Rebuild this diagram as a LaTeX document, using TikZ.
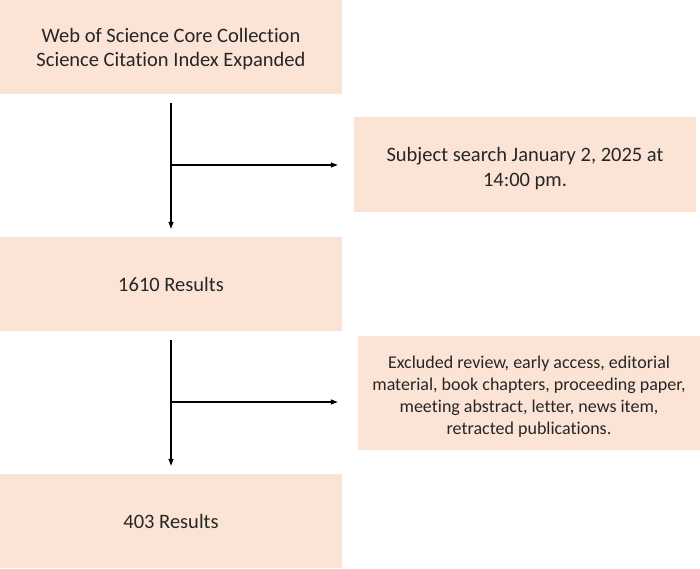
\documentclass[tikz,border=0pt]{standalone}
\usepackage{fontspec}
\setmainfont{Carlito}[Ligatures=NoCommon]
\usetikzlibrary{arrows.meta}
\definecolor{boxfill}{RGB}{251,228,214}
\begin{document}
\begin{tikzpicture}[x=1pt,y=-1pt,
  box/.style={fill=boxfill,draw=none,minimum width=342pt,inner sep=0pt,align=center,text=black!85},
  txt/.style={inner sep=0pt,align=center,text=black!85},
  big/.style={font=\fontsize{20.5}{24.5}\selectfont},
  small/.style={font=\fontsize{18}{22}\selectfont},
  arr/.style={line width=1.2pt,-{Triangle[length=7pt,width=5pt]}}]
\useasboundingbox (0,0) rectangle (700,569);
\node[box,minimum height=94pt] (wos) at (171,47) {};
\node[txt,big] (wostext) at ([yshift=-2pt]wos.center) {Web of Science Core Collection\\Science Citation Index Expanded};
\node[box,minimum height=95pt] (search) at (525,164.5) {};
\node[txt,big] (searchtext) at ([yshift=-4pt]search.center) {Subject search January 2, 2025 at\\14:00 pm.};
\node[box,big,minimum height=94pt] (r1610) at (171,284) {1610 Results};
\node[box,minimum height=114pt] (excl) at (529,393) {};
\node[txt,small] (excltext) at ([yshift=-4pt]excl.center) {Excluded review, early access, editorial\\material, book chapters, proceeding paper,\\meeting abstract, letter, news item,\\retracted publications.};
\node[box,big,minimum height=94pt] (r403) at (171,521) {403 Results};
\coordinate (j1) at (171,165);
\coordinate (j2) at (171,402);
\draw[arr,shorten <=9pt,shorten >=8pt] (wos.south) -- (r1610.north);
\draw[arr,shorten >=16pt] (j1) -- (j1 -| search.west);
\draw[arr,shorten <=9pt,shorten >=8pt] (r1610.south) -- (r403.north);
\draw[arr,shorten >=20pt] (j2) -- (j2 -| excl.west);
\end{tikzpicture}
\end{document}
